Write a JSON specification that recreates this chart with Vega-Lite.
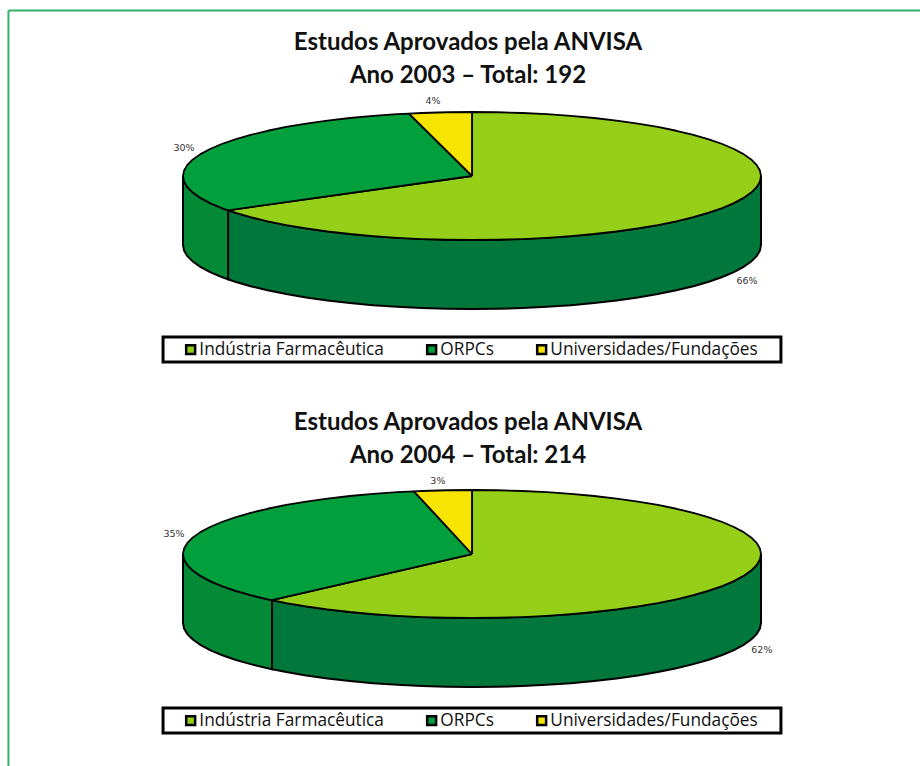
{"$schema":"https://vega.github.io/schema/vega-lite/v6.json","padding":0,"spacing":0,"bounds":"flush","background":"white","autosize":{"type":"pad"},"config":{"view":{"stroke":null},"legend":{"strokeWidth":0}},"datasets":{"slices03":[{"s":"Indústria Farmacêutica","x":0,"y":0},{"s":"Indústria Farmacêutica","x":0,"y":-1},{"s":"Indústria Farmacêutica","x":0.0872,"y":-0.9962},{"s":"Indústria Farmacêutica","x":0.1736,"y":-0.9848},{"s":"Indústria Farmacêutica","x":0.2588,"y":-0.9659},{"s":"Indústria Farmacêutica","x":0.342,"y":-0.9397},{"s":"Indústria Farmacêutica","x":0.4226,"y":-0.9063},{"s":"Indústria Farmacêutica","x":0.5,"y":-0.866},{"s":"Indústria Farmacêutica","x":0.5736,"y":-0.8192},{"s":"Indústria Farmacêutica","x":0.6428,"y":-0.766},{"s":"Indústria Farmacêutica","x":0.7071,"y":-0.7071},{"s":"Indústria Farmacêutica","x":0.766,"y":-0.6428},{"s":"Indústria Farmacêutica","x":0.8192,"y":-0.5736},{"s":"Indústria Farmacêutica","x":0.866,"y":-0.5},{"s":"Indústria Farmacêutica","x":0.9063,"y":-0.4226},{"s":"Indústria Farmacêutica","x":0.9397,"y":-0.342},{"s":"Indústria Farmacêutica","x":0.9659,"y":-0.2588},{"s":"Indústria Farmacêutica","x":0.9848,"y":-0.1736},{"s":"Indústria Farmacêutica","x":0.9962,"y":-0.0872},{"s":"Indústria Farmacêutica","x":1,"y":0},{"s":"Indústria Farmacêutica","x":0.9962,"y":0.0872},{"s":"Indústria Farmacêutica","x":0.9848,"y":0.1736},{"s":"Indústria Farmacêutica","x":0.9659,"y":0.2588},{"s":"Indústria Farmacêutica","x":0.9397,"y":0.342},{"s":"Indústria Farmacêutica","x":0.9063,"y":0.4226},{"s":"Indústria Farmacêutica","x":0.866,"y":0.5},{"s":"Indústria Farmacêutica","x":0.8192,"y":0.5736},{"s":"Indústria Farmacêutica","x":0.766,"y":0.6428},{"s":"Indústria Farmacêutica","x":0.7071,"y":0.7071},{"s":"Indústria Farmacêutica","x":0.6428,"y":0.766},{"s":"Indústria Farmacêutica","x":0.5736,"y":0.8192},{"s":"Indústria Farmacêutica","x":0.5,"y":0.866},{"s":"Indústria Farmacêutica","x":0.4226,"y":0.9063},{"s":"Indústria Farmacêutica","x":0.342,"y":0.9397},{"s":"Indústria Farmacêutica","x":0.2588,"y":0.9659},{"s":"Indústria Farmacêutica","x":0.1736,"y":0.9848},{"s":"Indústria Farmacêutica","x":0.0872,"y":0.9962},{"s":"Indústria Farmacêutica","x":0,"y":1},{"s":"Indústria Farmacêutica","x":-0.0872,"y":0.9962},{"s":"Indústria Farmacêutica","x":-0.1736,"y":0.9848},{"s":"Indústria Farmacêutica","x":-0.2588,"y":0.9659},{"s":"Indústria Farmacêutica","x":-0.342,"y":0.9397},{"s":"Indústria Farmacêutica","x":-0.4226,"y":0.9063},{"s":"Indústria Farmacêutica","x":-0.5,"y":0.866},{"s":"Indústria Farmacêutica","x":-0.5736,"y":0.8192},{"s":"Indústria Farmacêutica","x":-0.6428,"y":0.766},{"s":"Indústria Farmacêutica","x":-0.7071,"y":0.7071},{"s":"Indústria Farmacêutica","x":-0.766,"y":0.6428},{"s":"Indústria Farmacêutica","x":-0.8192,"y":0.5736},{"s":"Indústria Farmacêutica","x":-0.844,"y":0.536},{"s":"Indústria Farmacêutica","x":0,"y":0},{"s":"ORPCs","x":0,"y":0},{"s":"ORPCs","x":-0.844,"y":0.536},{"s":"ORPCs","x":-0.866,"y":0.5},{"s":"ORPCs","x":-0.9063,"y":0.4226},{"s":"ORPCs","x":-0.9397,"y":0.342},{"s":"ORPCs","x":-0.9659,"y":0.2588},{"s":"ORPCs","x":-0.9848,"y":0.1736},{"s":"ORPCs","x":-0.9962,"y":0.0872},{"s":"ORPCs","x":-1,"y":0},{"s":"ORPCs","x":-0.9962,"y":-0.0872},{"s":"ORPCs","x":-0.9848,"y":-0.1736},{"s":"ORPCs","x":-0.9659,"y":-0.2588},{"s":"ORPCs","x":-0.9397,"y":-0.342},{"s":"ORPCs","x":-0.9063,"y":-0.4226},{"s":"ORPCs","x":-0.866,"y":-0.5},{"s":"ORPCs","x":-0.8192,"y":-0.5736},{"s":"ORPCs","x":-0.766,"y":-0.6428},{"s":"ORPCs","x":-0.7071,"y":-0.7071},{"s":"ORPCs","x":-0.6428,"y":-0.766},{"s":"ORPCs","x":-0.5736,"y":-0.8192},{"s":"ORPCs","x":-0.5,"y":-0.866},{"s":"ORPCs","x":-0.4226,"y":-0.9063},{"s":"ORPCs","x":-0.342,"y":-0.9397},{"s":"ORPCs","x":-0.2588,"y":-0.9659},{"s":"ORPCs","x":-0.218,"y":-0.976},{"s":"ORPCs","x":0,"y":0},{"s":"Universidades/Fundações","x":0,"y":0},{"s":"Universidades/Fundações","x":-0.218,"y":-0.976},{"s":"Universidades/Fundações","x":-0.1736,"y":-0.9848},{"s":"Universidades/Fundações","x":-0.0872,"y":-0.9962},{"s":"Universidades/Fundações","x":0,"y":-1},{"s":"Universidades/Fundações","x":0,"y":0}],"slices04":[{"s":"Indústria Farmacêutica","x":0,"y":0},{"s":"Indústria Farmacêutica","x":0,"y":-1},{"s":"Indústria Farmacêutica","x":0.0872,"y":-0.9962},{"s":"Indústria Farmacêutica","x":0.1736,"y":-0.9848},{"s":"Indústria Farmacêutica","x":0.2588,"y":-0.9659},{"s":"Indústria Farmacêutica","x":0.342,"y":-0.9397},{"s":"Indústria Farmacêutica","x":0.4226,"y":-0.9063},{"s":"Indústria Farmacêutica","x":0.5,"y":-0.866},{"s":"Indústria Farmacêutica","x":0.5736,"y":-0.8192},{"s":"Indústria Farmacêutica","x":0.6428,"y":-0.766},{"s":"Indústria Farmacêutica","x":0.7071,"y":-0.7071},{"s":"Indústria Farmacêutica","x":0.766,"y":-0.6428},{"s":"Indústria Farmacêutica","x":0.8192,"y":-0.5736},{"s":"Indústria Farmacêutica","x":0.866,"y":-0.5},{"s":"Indústria Farmacêutica","x":0.9063,"y":-0.4226},{"s":"Indústria Farmacêutica","x":0.9397,"y":-0.342},{"s":"Indústria Farmacêutica","x":0.9659,"y":-0.2588},{"s":"Indústria Farmacêutica","x":0.9848,"y":-0.1736},{"s":"Indústria Farmacêutica","x":0.9962,"y":-0.0872},{"s":"Indústria Farmacêutica","x":1,"y":0},{"s":"Indústria Farmacêutica","x":0.9962,"y":0.0872},{"s":"Indústria Farmacêutica","x":0.9848,"y":0.1736},{"s":"Indústria Farmacêutica","x":0.9659,"y":0.2588},{"s":"Indústria Farmacêutica","x":0.9397,"y":0.342},{"s":"Indústria Farmacêutica","x":0.9063,"y":0.4226},{"s":"Indústria Farmacêutica","x":0.866,"y":0.5},{"s":"Indústria Farmacêutica","x":0.8192,"y":0.5736},{"s":"Indústria Farmacêutica","x":0.766,"y":0.6428},{"s":"Indústria Farmacêutica","x":0.7071,"y":0.7071},{"s":"Indústria Farmacêutica","x":0.6428,"y":0.766},{"s":"Indústria Farmacêutica","x":0.5736,"y":0.8192},{"s":"Indústria Farmacêutica","x":0.5,"y":0.866},{"s":"Indústria Farmacêutica","x":0.4226,"y":0.9063},{"s":"Indústria Farmacêutica","x":0.342,"y":0.9397},{"s":"Indústria Farmacêutica","x":0.2588,"y":0.9659},{"s":"Indústria Farmacêutica","x":0.1736,"y":0.9848},{"s":"Indústria Farmacêutica","x":0.0872,"y":0.9962},{"s":"Indústria Farmacêutica","x":0,"y":1},{"s":"Indústria Farmacêutica","x":-0.0872,"y":0.9962},{"s":"Indústria Farmacêutica","x":-0.1736,"y":0.9848},{"s":"Indústria Farmacêutica","x":-0.2588,"y":0.9659},{"s":"Indústria Farmacêutica","x":-0.342,"y":0.9397},{"s":"Indústria Farmacêutica","x":-0.4226,"y":0.9063},{"s":"Indústria Farmacêutica","x":-0.5,"y":0.866},{"s":"Indústria Farmacêutica","x":-0.5736,"y":0.8192},{"s":"Indústria Farmacêutica","x":-0.6428,"y":0.766},{"s":"Indústria Farmacêutica","x":-0.692,"y":0.722},{"s":"Indústria Farmacêutica","x":0,"y":0},{"s":"ORPCs","x":0,"y":0},{"s":"ORPCs","x":-0.692,"y":0.722},{"s":"ORPCs","x":-0.7071,"y":0.7071},{"s":"ORPCs","x":-0.766,"y":0.6428},{"s":"ORPCs","x":-0.8192,"y":0.5736},{"s":"ORPCs","x":-0.866,"y":0.5},{"s":"ORPCs","x":-0.9063,"y":0.4226},{"s":"ORPCs","x":-0.9397,"y":0.342},{"s":"ORPCs","x":-0.9659,"y":0.2588},{"s":"ORPCs","x":-0.9848,"y":0.1736},{"s":"ORPCs","x":-0.9962,"y":0.0872},{"s":"ORPCs","x":-1,"y":0},{"s":"ORPCs","x":-0.9962,"y":-0.0872},{"s":"ORPCs","x":-0.9848,"y":-0.1736},{"s":"ORPCs","x":-0.9659,"y":-0.2588},{"s":"ORPCs","x":-0.9397,"y":-0.342},{"s":"ORPCs","x":-0.9063,"y":-0.4226},{"s":"ORPCs","x":-0.866,"y":-0.5},{"s":"ORPCs","x":-0.8192,"y":-0.5736},{"s":"ORPCs","x":-0.766,"y":-0.6428},{"s":"ORPCs","x":-0.7071,"y":-0.7071},{"s":"ORPCs","x":-0.6428,"y":-0.766},{"s":"ORPCs","x":-0.5736,"y":-0.8192},{"s":"ORPCs","x":-0.5,"y":-0.866},{"s":"ORPCs","x":-0.4226,"y":-0.9063},{"s":"ORPCs","x":-0.342,"y":-0.9397},{"s":"ORPCs","x":-0.2588,"y":-0.9659},{"s":"ORPCs","x":-0.201,"y":-0.98},{"s":"ORPCs","x":0,"y":0},{"s":"Universidades/Fundações","x":0,"y":0},{"s":"Universidades/Fundações","x":-0.201,"y":-0.98},{"s":"Universidades/Fundações","x":-0.1736,"y":-0.9848},{"s":"Universidades/Fundações","x":-0.0872,"y":-0.9962},{"s":"Universidades/Fundações","x":0,"y":-1},{"s":"Universidades/Fundações","x":0,"y":0}],"wallRight03":[{"x":-0.844,"y":0.536,"b":1.614},{"x":-0.8192,"y":0.5736,"b":1.652},{"x":-0.766,"y":0.6428,"b":1.721},{"x":-0.7071,"y":0.7071,"b":1.785},{"x":-0.6428,"y":0.766,"b":1.844},{"x":-0.5736,"y":0.8192,"b":1.897},{"x":-0.5,"y":0.866,"b":1.944},{"x":-0.4226,"y":0.9063,"b":1.984},{"x":-0.342,"y":0.9397,"b":2.018},{"x":-0.2588,"y":0.9659,"b":2.044},{"x":-0.1736,"y":0.9848,"b":2.063},{"x":-0.0872,"y":0.9962,"b":2.074},{"x":0,"y":1,"b":2.078},{"x":0.0872,"y":0.9962,"b":2.074},{"x":0.1736,"y":0.9848,"b":2.063},{"x":0.2588,"y":0.9659,"b":2.044},{"x":0.342,"y":0.9397,"b":2.018},{"x":0.4226,"y":0.9063,"b":1.984},{"x":0.5,"y":0.866,"b":1.944},{"x":0.5736,"y":0.8192,"b":1.897},{"x":0.6428,"y":0.766,"b":1.844},{"x":0.7071,"y":0.7071,"b":1.785},{"x":0.766,"y":0.6428,"b":1.721},{"x":0.8192,"y":0.5736,"b":1.652},{"x":0.866,"y":0.5,"b":1.578},{"x":0.9063,"y":0.4226,"b":1.501},{"x":0.9397,"y":0.342,"b":1.42},{"x":0.9659,"y":0.2588,"b":1.337},{"x":0.9848,"y":0.1736,"b":1.252},{"x":0.9962,"y":0.0872,"b":1.165},{"x":1,"y":0,"b":1.078}],"wallLeft03":[{"x":-1,"y":0,"b":1.078},{"x":-0.9962,"y":0.0872,"b":1.165},{"x":-0.9848,"y":0.1736,"b":1.252},{"x":-0.9659,"y":0.2588,"b":1.337},{"x":-0.9397,"y":0.342,"b":1.42},{"x":-0.9063,"y":0.4226,"b":1.501},{"x":-0.866,"y":0.5,"b":1.578},{"x":-0.844,"y":0.536,"b":1.614}],"wallRight04":[{"x":-0.692,"y":0.722,"b":1.8},{"x":-0.6428,"y":0.766,"b":1.844},{"x":-0.5736,"y":0.8192,"b":1.897},{"x":-0.5,"y":0.866,"b":1.944},{"x":-0.4226,"y":0.9063,"b":1.984},{"x":-0.342,"y":0.9397,"b":2.018},{"x":-0.2588,"y":0.9659,"b":2.044},{"x":-0.1736,"y":0.9848,"b":2.063},{"x":-0.0872,"y":0.9962,"b":2.074},{"x":0,"y":1,"b":2.078},{"x":0.0872,"y":0.9962,"b":2.074},{"x":0.1736,"y":0.9848,"b":2.063},{"x":0.2588,"y":0.9659,"b":2.044},{"x":0.342,"y":0.9397,"b":2.018},{"x":0.4226,"y":0.9063,"b":1.984},{"x":0.5,"y":0.866,"b":1.944},{"x":0.5736,"y":0.8192,"b":1.897},{"x":0.6428,"y":0.766,"b":1.844},{"x":0.7071,"y":0.7071,"b":1.785},{"x":0.766,"y":0.6428,"b":1.721},{"x":0.8192,"y":0.5736,"b":1.652},{"x":0.866,"y":0.5,"b":1.578},{"x":0.9063,"y":0.4226,"b":1.501},{"x":0.9397,"y":0.342,"b":1.42},{"x":0.9659,"y":0.2588,"b":1.337},{"x":0.9848,"y":0.1736,"b":1.252},{"x":0.9962,"y":0.0872,"b":1.165},{"x":1,"y":0,"b":1.078}],"wallLeft04":[{"x":-1,"y":0,"b":1.078},{"x":-0.9962,"y":0.0872,"b":1.165},{"x":-0.9848,"y":0.1736,"b":1.252},{"x":-0.9659,"y":0.2588,"b":1.337},{"x":-0.9397,"y":0.342,"b":1.42},{"x":-0.9063,"y":0.4226,"b":1.501},{"x":-0.866,"y":0.5,"b":1.578},{"x":-0.8192,"y":0.5736,"b":1.652},{"x":-0.766,"y":0.6428,"b":1.721},{"x":-0.7071,"y":0.7071,"b":1.785},{"x":-0.692,"y":0.722,"b":1.8}]},"resolve":{"legend":{"fill":"independent"}},"vconcat":[{"width":920,"height":383,"title":{"text":["Estudos Aprovados pela ANVISA","Ano 2003 – Total: 192"],"orient":"top","anchor":"middle","frame":"group","dx":8,"offset":-88,"font":"Lato","fontSize":24,"fontWeight":"bold","color":"#111111","lineHeight":33},"encoding":{"x":{"field":"x","type":"quantitative","axis":null,"scale":{"domain":[-1.6332,1.5502],"nice":false,"zero":false}},"y":{"field":"y","type":"quantitative","axis":null,"scale":{"domain":[3.234,-2.75],"nice":false,"zero":false}}},"layer":[{"data":{"values":[{"x":-1.604,"y":-2.586,"y2":3.234}]},"mark":{"type":"rule","color":"#35b066","strokeWidth":2},"encoding":{"y2":{"field":"y2"}}},{"data":{"values":[{"x":-1.604,"x2":1.5502,"y":-2.586}]},"mark":{"type":"rule","color":"#35b066","strokeWidth":2},"encoding":{"x2":{"field":"x2"}}},{"data":{"name":"wallRight03"},"mark":{"type":"area","fill":"#00773b","stroke":"#000000","strokeWidth":2},"encoding":{"y2":{"field":"b"}}},{"data":{"name":"wallLeft03"},"mark":{"type":"area","fill":"#048a37","stroke":"#000000","strokeWidth":2},"encoding":{"y2":{"field":"b"}}},{"data":{"name":"slices03"},"mark":{"type":"line","stroke":"#000000","strokeWidth":1.8,"strokeJoin":"round"},"encoding":{"order":{"value":null},"fill":{"field":"s","type":"nominal","sort":null,"scale":{"domain":["Indústria Farmacêutica","ORPCs","Universidades/Fundações"],"range":["#95cf17","#02a03d","#f7e400"]},"legend":{"title":null,"orient":"none","legendX":182,"legendY":341,"direction":"horizontal","columns":3,"symbolType":"square","symbolSize":80,"symbolStrokeColor":"#000000","symbolStrokeWidth":2.5,"labelFont":"Open Sans","labelFontSize":17.3,"labelColor":"#111111","labelLimit":400,"columnPadding":38,"labelOffset":0,"padding":0,"gridAlign":"none"}}}},{"data":{"values":[{"t":"66%","x":0.9516,"y":1.64},{"t":"30%","x":-0.9965,"y":-0.4375},{"t":"4%","x":-0.135,"y":-1.17}]},"mark":{"type":"text","font":"DejaVu Sans","fontSize":9.5,"color":"#333333","align":"center","baseline":"middle"},"encoding":{"text":{"field":"t"}}},{"data":{"values":[{"x":-1.069,"x2":1.069,"y":2.516,"y2":2.906}]},"mark":{"type":"rect","fill":null,"stroke":"#000000","strokeWidth":3},"encoding":{"x2":{"field":"x2"},"y2":{"field":"y2"}}}]},{"width":920,"height":383,"title":{"text":["Estudos Aprovados pela ANVISA","Ano 2004 – Total: 214"],"orient":"top","anchor":"middle","frame":"group","dx":8,"offset":-86,"font":"Lato","fontSize":24,"fontWeight":"bold","color":"#111111","lineHeight":33},"encoding":{"x":{"field":"x","type":"quantitative","axis":null,"scale":{"domain":[-1.6332,1.5502],"nice":false,"zero":false}},"y":{"field":"y","type":"quantitative","axis":null,"scale":{"domain":[3.3125,-2.672],"nice":false,"zero":false}}},"layer":[{"data":{"values":[{"x":-1.604,"y":-2.672,"y2":3.3125}]},"mark":{"type":"rule","color":"#35b066","strokeWidth":2},"encoding":{"y2":{"field":"y2"}}},{"data":{"name":"wallRight04"},"mark":{"type":"area","fill":"#00773b","stroke":"#000000","strokeWidth":2},"encoding":{"y2":{"field":"b"}}},{"data":{"name":"wallLeft04"},"mark":{"type":"area","fill":"#048a37","stroke":"#000000","strokeWidth":2},"encoding":{"y2":{"field":"b"}}},{"data":{"name":"slices04"},"mark":{"type":"line","stroke":"#000000","strokeWidth":1.8,"strokeJoin":"round"},"encoding":{"order":{"value":null},"fill":{"field":"s","type":"nominal","sort":null,"scale":{"domain":["Indústria Farmacêutica","ORPCs","Universidades/Fundações"],"range":["#95cf17","#02a03d","#f7e400"]},"legend":{"title":null,"orient":"none","legendX":182,"legendY":329,"direction":"horizontal","columns":3,"symbolType":"square","symbolSize":80,"symbolStrokeColor":"#000000","symbolStrokeWidth":2.5,"labelFont":"Open Sans","labelFontSize":17.3,"labelColor":"#111111","labelLimit":400,"columnPadding":38,"labelOffset":0,"padding":0,"gridAlign":"none"}}}},{"data":{"values":[{"t":"62%","x":1.003,"y":1.5},{"t":"35%","x":-1.031,"y":-0.3125},{"t":"3%","x":-0.118,"y":-1.14}]},"mark":{"type":"text","font":"DejaVu Sans","fontSize":9.5,"color":"#333333","align":"center","baseline":"middle"},"encoding":{"text":{"field":"t"}}},{"data":{"values":[{"x":-1.069,"x2":1.069,"y":2.406,"y2":2.797}]},"mark":{"type":"rect","fill":null,"stroke":"#000000","strokeWidth":3},"encoding":{"x2":{"field":"x2"},"y2":{"field":"y2"}}}]}]}
